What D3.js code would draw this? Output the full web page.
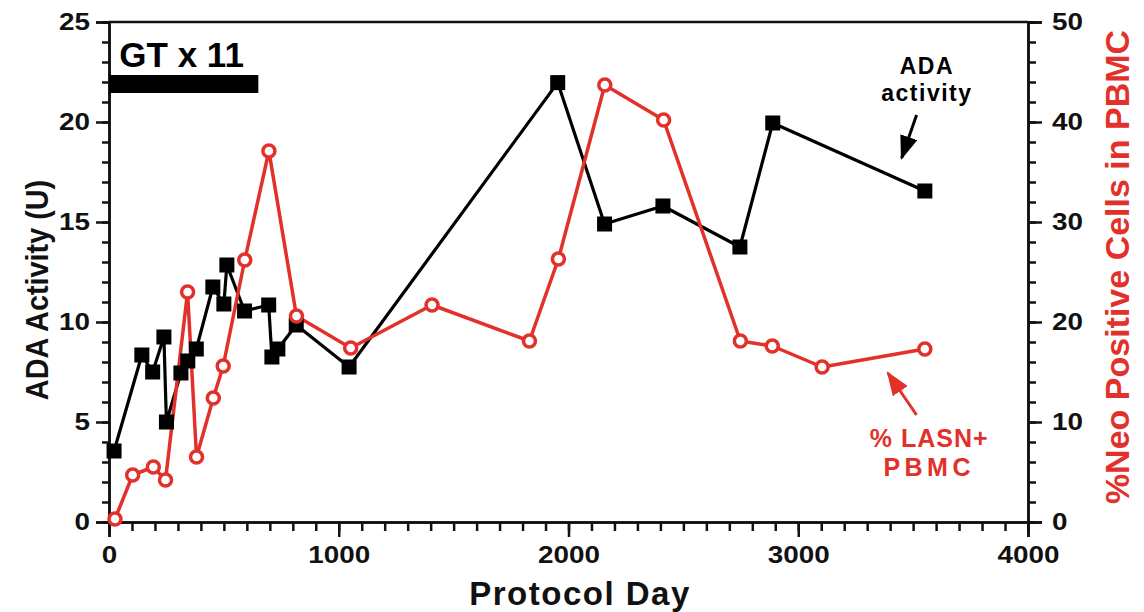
<!DOCTYPE html>
<html>
<head>
<meta charset="utf-8">
<script src="https://cdn.jsdelivr.net/npm/d3@7"></script>
<style>
  body { margin: 0; background: #fff; }
  svg text { font-family: "Liberation Sans", Arial, sans-serif; font-weight: bold; }
</style>
</head>
<body>
<div id="chart"></div>
<script>
// ... data
const adaDays   = [22, 143, 190, 239, 250, 313, 343, 380, 452, 500, 513, 590, 695, 709, 735, 815, 1045, 1953, 2157, 2411, 2746, 2889, 3551];
const adaValues = [3.55, 8.35, 7.5, 9.25, 5.0, 7.45, 8.05, 8.65, 11.75, 10.9, 12.85, 10.55, 10.85, 8.25, 8.65, 9.85, 7.75, 21.97, 14.9, 15.8, 13.75, 19.95, 16.55];

const lasnDays   = [26, 103, 193, 246, 342, 381, 454, 497, 591, 696, 816, 1052, 1406, 1830, 1956, 2158, 2414, 2748, 2887, 3104, 3551];
const lasnValues = [0.3, 4.7, 5.5, 4.2, 23.0, 6.5, 12.4, 15.6, 26.2, 37.1, 20.6, 17.4, 21.7, 18.1, 26.3, 43.7, 40.2, 18.1, 17.6, 15.5, 17.3];

const xTicks = [0, 1000, 2000, 3000, 4000];
const leftTicks = [0, 5, 10, 15, 20, 25];
const rightTicks = [0, 10, 20, 30, 40, 50];

const gtLabel = 'GT x 11';
const gtSpan = [0, 650];        // treatment period, days
const adaLabel = ['ADA', 'activity'];
const lasnLabel = ['% LASN+', 'PBMC'];

const RED = '#e2312b';

const margin = { top: 22, right: 116, bottom: 90, left: 109 };
const W = 1144, H = 612;
const width = W - margin.left - margin.right;
const height = H - margin.top - margin.bottom;

const x = d3.scaleLinear().domain([0, 4000]).range([0, width]);
const yL = d3.scaleLinear().domain([0, 25]).range([height, 0]);
const yR = d3.scaleLinear().domain([0, 50]).range([height, 0]);

const svg = d3.select('#chart').append('svg')
    .attr('width', W)
    .attr('height', H)
    .append('g')
    .attr('transform', 'translate(' + margin.left + ',' + margin.top + ')');

function styleAxis(g) {
    g.select('.domain').attr('stroke', '#111').attr('stroke-width', 2.5);
    g.selectAll('.tick line').attr('stroke', '#111').attr('stroke-width', 2.5);
    g.selectAll('.tick text').attr('fill', '#111').style('font-size', '24px');
}

// the figure's lettering is a little wider than Arial
function widen(g, k) {
    g.selectAll('.tick text').each(function () {
        const t = d3.select(this);
        const xv = +t.attr('x') || 0;
        t.attr('x', xv / k).attr('transform', 'scale(' + k + ',1)');
    });
}

// ... minor ticks first
svg.append('g')
    .attr('transform', 'translate(0,' + height + ')')
    .call(d3.axisBottom(x).tickValues(d3.range(0, 4001, 100)).tickSize(9).tickFormat(''))
    .call(styleAxis);
svg.append('g')
    .call(d3.axisLeft(yL).tickValues(d3.range(0, 26, 1)).tickSize(7).tickFormat(''))
    .call(styleAxis);
svg.append('g')
    .attr('transform', 'translate(' + width + ',0)')
    .call(d3.axisRight(yR).tickValues(d3.range(0, 51, 2)).tickSize(8).tickFormat(''))
    .call(styleAxis);

// ... major ticks with labels
svg.append('g')
    .attr('transform', 'translate(0,' + height + ')')
    .call(d3.axisBottom(x).tickValues(xTicks).tickSize(15).tickPadding(9).tickFormat(d3.format('d')))
    .call(styleAxis)
    .call(widen, 1.16);
svg.append('g')
    .call(d3.axisLeft(yL).tickValues(leftTicks).tickSize(13).tickPadding(6))
    .call(styleAxis)
    .call(widen, 1.16);
svg.append('g')
    .attr('transform', 'translate(' + width + ',0)')
    .call(d3.axisRight(yR).tickValues(rightTicks).tickSize(14).tickPadding(10))
    .call(styleAxis)
    .call(widen, 1.16);

// top frame line
svg.append('line')
    .attr('x1', 0).attr('x2', width)
    .attr('y1', 0).attr('y2', 0)
    .attr('stroke', '#111')
    .attr('stroke-width', 2.5);

// ... axis titles
svg.append('text')
    .attr('transform', 'translate(-61,' + (height / 2 + 18) + ') rotate(-90) scale(0.9,1)')
    .attr('text-anchor', 'middle')
    .style('font-size', '32px')
    .attr('fill', '#111')
    .text('ADA Activity (U)');

svg.append('text')
    .attr('x', 471)
    .attr('y', height + 83)
    .attr('text-anchor', 'middle')
    .style('font-size', '33px')
    .style('letter-spacing', '1.5px')
    .attr('fill', '#111')
    .text('Protocol Day');

svg.append('text')
    .attr('transform', 'translate(' + (width + 101) + ',' + (height / 2 - 5) + ') rotate(-90)')
    .attr('text-anchor', 'middle')
    .style('font-size', '34px')
    .attr('fill', RED)
    .text('%Neo Positive Cells in PBMC');

// ... GT bar
svg.append('rect')
    .attr('x', x(gtSpan[0]))
    .attr('y', yL(22.35))
    .attr('width', x(gtSpan[1]) - x(gtSpan[0]))
    .attr('height', yL(21.45) - yL(22.35))
    .attr('fill', '#000');

svg.append('text')
    .attr('x', x(45))
    .attr('y', yL(22.75))
    .style('font-size', '35px')
    .attr('fill', '#000')
    .text(gtLabel);

// ... ADA line (black squares)
const adaData = adaDays.map((d, i) => ({ day: d, v: adaValues[i] }));
const lasnData = lasnDays.map((d, i) => ({ day: d, v: lasnValues[i] }));

svg.append('path')
    .datum(adaData)
    .attr('fill', 'none')
    .attr('stroke', '#000')
    .attr('stroke-width', 3.2)
    .attr('stroke-linejoin', 'round')
    .attr('d', d3.line().x(d => x(d.day)).y(d => yL(d.v)));

// ... LASN line (red open circles)
svg.append('path')
    .datum(lasnData)
    .attr('fill', 'none')
    .attr('stroke', RED)
    .attr('stroke-width', 3.5)
    .attr('stroke-linejoin', 'round')
    .attr('d', d3.line().x(d => x(d.day)).y(d => yR(d.v)));

svg.selectAll('.sq')
    .data(adaData)
    .enter().append('rect')
    .attr('class', 'sq')
    .attr('x', d => x(d.day) - 7.5)
    .attr('y', d => yL(d.v) - 7.5)
    .attr('width', 15)
    .attr('height', 15)
    .attr('fill', '#000');

svg.selectAll('.circ')
    .data(lasnData)
    .enter().append('circle')
    .attr('class', 'circ')
    .attr('cx', d => x(d.day))
    .attr('cy', d => yR(d.v))
    .attr('r', 6)
    .attr('fill', '#fff')
    .attr('stroke', RED)
    .attr('stroke-width', 3.5);

// ... annotation arrows
const defs = svg.append('defs');
function addHead(id, color) {
    defs.append('marker')
        .attr('id', id)
        .attr('viewBox', '0 0 24 18')
        .attr('refX', 22)
        .attr('refY', 9)
        .attr('markerWidth', 24)
        .attr('markerHeight', 18)
        .attr('markerUnits', 'userSpaceOnUse')
        .attr('orient', 'auto')
        .append('path')
        .attr('d', 'M0,0 L24,9 L0,18 Z')
        .attr('fill', color);
}
addHead('headBlack', '#000');
addHead('headRed', RED);

// ADA activity label (positions in data units)
svg.append('text')
    .attr('text-anchor', 'middle')
    .attr('fill', '#000')
    .style('font-size', '23px')
    .style('letter-spacing', '1.5px')
    .selectAll('tspan')
    .data(adaLabel)
    .enter().append('tspan')
    .attr('x', x(3560))
    .attr('y', (d, i) => yL(22.4) + i * 27)
    .text(d => d);

svg.append('line')
    .attr('x1', x(3515)).attr('y1', yL(20.35))
    .attr('x2', x(3450)).attr('y2', yL(18.2))
    .attr('stroke', '#000')
    .attr('stroke-width', 3)
    .attr('marker-end', 'url(#headBlack)');

svg.append('line')
    .attr('x1', x(3515)).attr('y1', yR(10.7))
    .attr('x2', x(3390)).attr('y2', yR(14.9))
    .attr('stroke', RED)
    .attr('stroke-width', 3)
    .attr('marker-end', 'url(#headRed)');

svg.append('text')
    .attr('text-anchor', 'middle')
    .attr('fill', RED)
    .style('font-size', '25px')
    .selectAll('tspan')
    .data(lasnLabel)
    .enter().append('tspan')
    .attr('x', x(3570))
    .attr('y', (d, i) => yR(7.5) + i * 29)
    .style('letter-spacing', (d, i) => i === 1 ? '4.5px' : '1px')
    .text(d => d);
</script>
</body>
</html>
